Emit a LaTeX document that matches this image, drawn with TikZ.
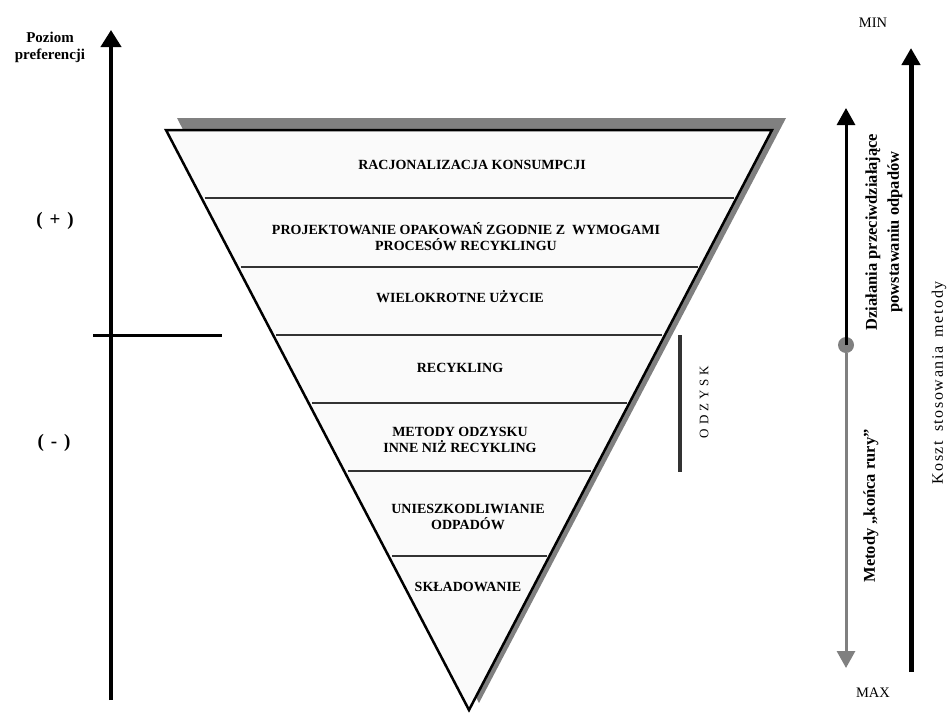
\documentclass[tikz,border=0pt]{standalone}
\usepackage{fontspec}
\setmainfont{Liberation Serif}
\usetikzlibrary{arrows.meta}
\newcommand{\lsp}{\kern1.6pt}
\tikzset{
  band/.style={font=\fontsize{14}{16}\selectfont\bfseries, align=center, inner sep=0pt},
  divider/.style={draw=black!80, line width=1.5pt},
  sidetxt/.style={font=\fontsize{16.5}{22}\selectfont\bfseries, align=center, inner sep=0pt, rotate=90},
  plaintxt/.style={font=\fontsize{14.5}{17}\selectfont, inner sep=0pt},
  signtxt/.style={font=\fontsize{19}{21}\selectfont\bfseries, inner sep=0pt},
  bigarrow/.style={line width=4pt, -{Triangle[length=17pt,width=20pt]}},
}
\begin{document}
\begin{tikzpicture}[x=1pt,y=-1pt]
\useasboundingbox (0,0) rectangle (947,712);
% left axis
\coordinate (axB) at (111,700);
\coordinate (axT) at (111,30);
\draw[bigarrow] (axB) -- (axT);
\node[font=\fontsize{15}{17}\selectfont\bfseries, align=center, inner sep=0pt] (poziom) at (50,47) {Poziom\\preferencji};
\node[signtxt] (plus) at (55,221) {(\hspace{7pt}+\hspace{7pt})};
\node[signtxt] (minus) at (54,443) {(\hspace{7pt}-\hspace{7pt})};
\coordinate (hL) at (93,335);
\coordinate (hR) at (222,335);
\draw[line width=3pt] (hL) -- (hR);
% triangle shadow and body
\fill[black!50] (177,118) -- (786,118) -- (479,703) -- cycle;
\draw[line width=2.5pt, fill=black!2, line join=miter] (166,130) coordinate (tL) -- (772,130) coordinate (tR) -- (469,710) coordinate (tA) -- cycle;
% dividers
\foreach \y in {198,267,335,403,471,556} {
  \draw[divider] ({166+0.524*(\y-130)+3},\y) -- ({772-0.5216*(\y-130)-3},\y);
}
% band labels
\node[band] (b1) at (472,165) {RACJONALIZACJA KONSUMPCJI};
\node[band] (b2) at (466,237) {PROJEKTOWANIE OPAKOWAŃ ZGODNIE Z\ \ WYMOGAMI\\PROCESÓW RECYKLINGU};
\node[band] (b3) at (460,297) {WIELOKROTNE UŻYCIE};
\node[band] (b4) at (460,368) {RECYKLING};
\node[band] (b5) at (460,440) {METODY ODZYSKU\\INNE NIŻ RECYKLING};
\node[band] (b6) at (468,517) {UNIESZKODLIWIANIE\\ODPADÓW};
\node[band] (b7) at (468,587) {SKŁADOWANIE};
% odzysk bar
\coordinate (oT) at (680,335);
\coordinate (oB) at (680,472);
\draw[line width=4pt, black!80] (oT) -- (oB);
\node[font=\fontsize{13}{15}\selectfont, rotate=90, inner sep=0pt] (odzysk) at (704,402) {O\hspace{4pt}D\hspace{4pt}Z\hspace{4pt}Y\hspace{4pt}S\hspace{4pt}K};
% right arrows
\node[circle, fill=black!50, minimum size=16pt, inner sep=0pt] (mid) at (846,345) {};
\coordinate (aT) at (846,108);
\coordinate (aB) at (846,668);
\draw[line width=3pt, -{Triangle[length=17pt,width=18pt]}] (mid.center) -- (aT);
\draw[line width=3pt, black!50, -{Triangle[length=17pt,width=18pt]}] (mid.south) -- (aB);
\coordinate (kB) at (911,672);
\coordinate (kT) at (911,48);
\draw[line width=5pt, -{Triangle[length=17pt,width=18pt]}] (kB) -- (kT);
\node[plaintxt] (min) at (873,23) {MIN};
\node[plaintxt] (max) at (873,693) {MAX};
\node[sidetxt] (dzial) at (884,232) {Działania przeciwdziałające\\powstawaniu odpadów};
\node[sidetxt] (metody) at (871,506) {Metody „końca rury”};
\node[font=\fontsize{16}{18}\selectfont, inner sep=0pt, rotate=90] (koszt) at (939,383) {K\lsp o\lsp s\lsp z\lsp t\hspace{9pt}s\lsp t\lsp o\lsp s\lsp o\lsp w\lsp a\lsp n\lsp i\lsp a\hspace{9pt}m\lsp e\lsp t\lsp o\lsp d\lsp y};
\end{tikzpicture}
\end{document}
